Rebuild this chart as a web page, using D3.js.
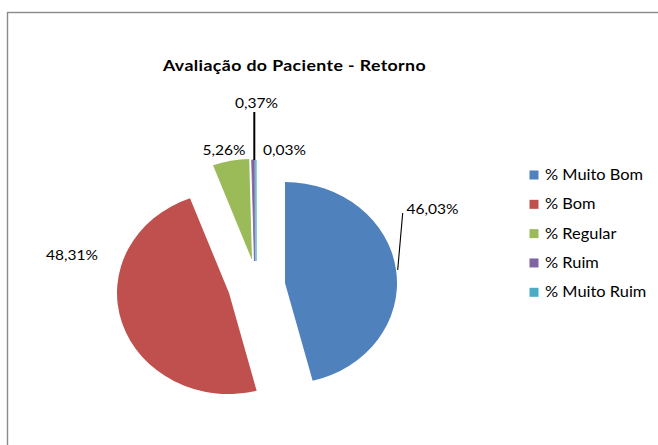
<!DOCTYPE html>
<html>
  <head>
    <meta charset="utf-8">
    <title>Avaliação do Paciente - Retorno</title>
    <script src="https://d3js.org/d3.v7.min.js"></script>
    <style>
      body { margin: 0; background: #fff; }
      text { font-family: Lato, "Open Sans", sans-serif; fill: #000; }
    </style>
  </head>
  <body>
    <div id="chart"></div>
    <script>
      // chart data
      const categories = ["% Muito Bom", "% Bom", "% Regular", "% Ruim", "% Muito Ruim"];
      const values = [46.03, 48.31, 5.26, 0.37, 0.03];
      const labels = ["46,03%", "48,31%", "5,26%", "0,37%", "0,03%"];
      const colors = ["#4F81BD", "#C0504D", "#9BBB59", "#8064A2", "#4BACC6"];

      const width = 658;
      const height = 445;
      // the original picture is stretched a bit horizontally
      const SX = 1.109;
      const sx = x => x / SX;

      const svg = d3.select("#chart")
        .append("svg")
        .attr("width", width)
        .attr("height", height);

      // frame of the chart area
      svg.append("rect")
        .attr("x", 7.5).attr("y", 12.5)
        .attr("width", 700).attr("height", 500)
        .attr("fill", "none")
        .attr("stroke", "#8a8a8a")
        .attr("stroke-width", 1.4);

      const g = svg.append("g").attr("transform", `scale(${SX},1)`);

      // title
      g.append("text")
        .attr("x", sx(294.5)).attr("y", 71)
        .attr("text-anchor", "middle")
        .style("font-size", "16px")
        .style("font-weight", "bold")
        .style("letter-spacing", "0.35px")
        .text("Avaliação do Paciente - Retorno");

      // pie
      const radius = 101;
      const center = [sx(262), 276];
      // exploded offset of each slice from the pie center
      const explode = [[sx(23), 7], [sx(-33), 17], [sx(-10), -16], [sx(-7.5), -15], [sx(-6), -15]];

      const pie = d3.pie().sort(null).value(d => d)(values);
      const arc = d3.arc().innerRadius(0).outerRadius(radius);

      g.append("g")
        .selectAll("path")
        .data(pie)
        .join("path")
        .attr("transform", (d, i) => `translate(${center[0] + explode[i][0]},${center[1] + explode[i][1]})`)
        .attr("d", arc)
        .attr("fill", (d, i) => colors[i])
        .attr("stroke", (d, i) => i >= 3 ? colors[i] : "none")
        .attr("stroke-width", 0.8);

      // data labels
      const labelPos = [[432.5, 214], [72, 260], [224, 155], [256.5, 108], [284.5, 155]];
      g.append("g")
        .selectAll("text")
        .data(labels)
        .join("text")
        .attr("x", (d, i) => sx(labelPos[i][0]))
        .attr("y", (d, i) => labelPos[i][1])
        .attr("text-anchor", "middle")
        .style("font-size", "14px")
        .text(d => d);

      // leader lines
      const leaders = [
        [[402.7, 213], [397.7, 270]],
        [[254.3, 112], [254.3, 160]]
      ];
      g.append("g")
        .selectAll("line")
        .data(leaders)
        .join("line")
        .attr("x1", d => sx(d[0][0])).attr("y1", d => d[0][1])
        .attr("x2", d => sx(d[1][0])).attr("y2", d => d[1][1])
        .attr("stroke", "#000")
        .attr("stroke-width", (d, i) => i === 1 ? 1.8 : 1);

      // legend
      const legendY = d3.scalePoint().domain(categories).range([175, 292.3]);
      const legend = g.append("g")
        .selectAll("g")
        .data(categories)
        .join("g")
        .attr("transform", d => `translate(0,${legendY(d)})`);

      legend.append("rect")
        .attr("x", sx(529.5)).attr("y", -4.5)
        .attr("width", sx(9)).attr("height", 9)
        .attr("fill", (d, i) => colors[i]);

      legend.append("text")
        .attr("x", sx(545)).attr("y", 5)
        .style("font-size", "14.8px")
        .text(d => d);
    </script>
  </body>
</html>
